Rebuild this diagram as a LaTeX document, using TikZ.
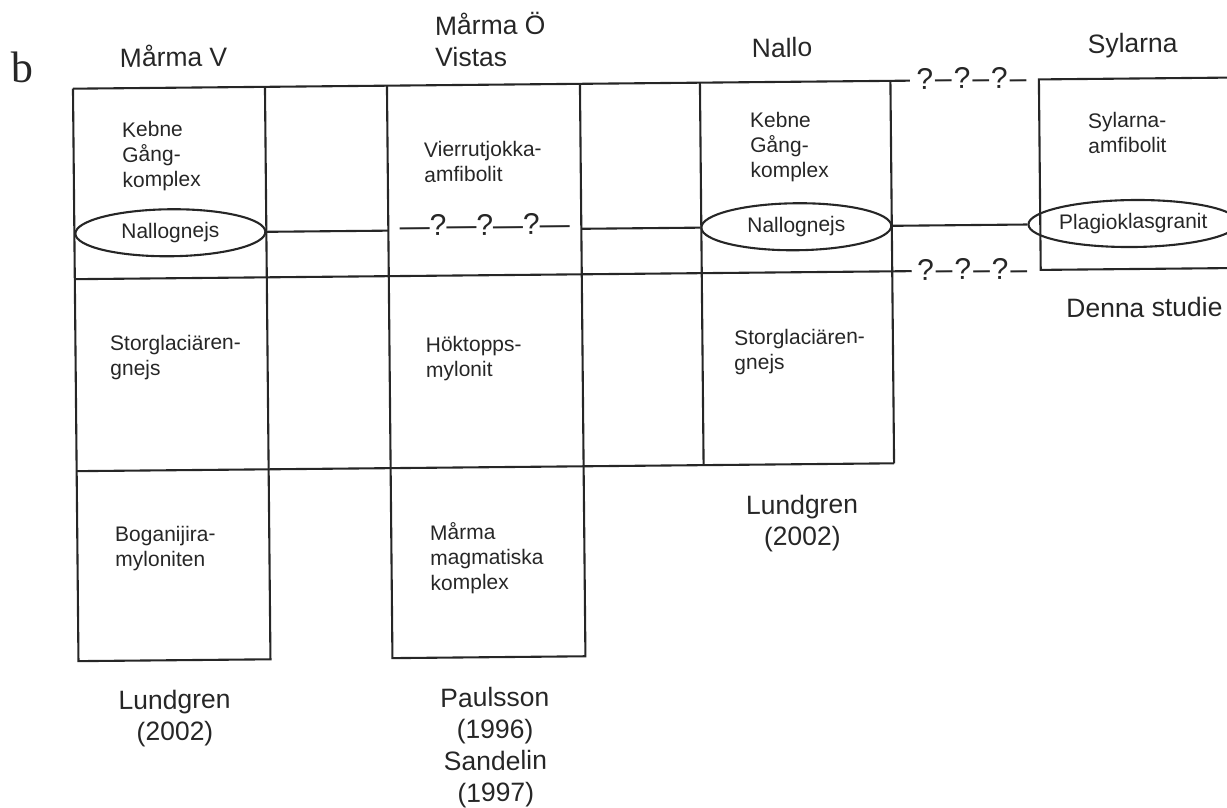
\documentclass[tikz,border=0pt]{standalone}
\usepackage{fontspec}
\newfontfamily\arial{Liberation Sans}
\newfontfamily\serifb{Liberation Serif}
\usetikzlibrary{shapes.geometric}
\begin{document}
\begin{tikzpicture}[x=1pt,y=-1pt,
  ln/.style={line width=2.1pt, draw=black!85},
  hd/.style={font=\arial\fontsize{26.5}{31.7}\selectfont, text=black!85, inner sep=0pt, align=left, anchor=base west},
  hdc/.style={font=\arial\fontsize{26.5}{31.7}\selectfont, text=black!85, inner sep=0pt, align=center, anchor=base},
  tx/.style={font=\arial\fontsize{21}{25}\selectfont, text=black!85, inner sep=0pt, align=left, anchor=base west},
  ell/.style={ellipse, ln, minimum width=190pt, minimum height=47pt, inner sep=0pt, font=\arial\fontsize{21}{25}\selectfont, text=black!85},
  qm/.style={font=\arial\fontsize{30}{36}\selectfont, text=black!85, inner sep=0pt, anchor=base},
]
\useasboundingbox (0,0) rectangle (1227,807);
\clip (0,0) rectangle (1227,807);
\begin{scope}[rotate around={0.55:(613,403)}, transform shape]
% grid
\draw[ln] (76,83.5) -- (913,83.5);
\draw[ln] (76,274) -- (913,274);
\draw[ln] (76,466) -- (893.5,466);
\draw[ln] (76,83.5) -- (76,656) -- (268,656) -- (268,83.5);
\draw[ln] (390,83.5) -- (390,656) -- (583,656) -- (583,83.5);
\draw[ln] (703,83.5) -- (703,466);
\draw[ln] (893.5,83.5) -- (893.5,466);
\draw[ln] (1245,83.5) -- (1042,83.5) -- (1042,274) -- (1245,274);
% ellipses
\node[ell] (nA) at (172,228.5) {Nallognejs};
\node[ell] (nC) at (798,228.5) {Nallognejs};
\node[ell, minimum width=186pt] (nD) at (1135,228.5) {Plagioklasgranit};
\coordinate (mB1) at (390,228.5);
\coordinate (mB2) at (583,228.5);
\draw[ln] (nA.east) -- (mB1);
\draw[ln] (mB2) -- (nC.west);
\draw[ln] (nC.east) -- (nD.west);
% question marks
\node[qm] (qB) at (486.5,234) {—?—?—?—};
\node[qm] (qT) at (974.6,92) {?\kern2pt–\kern2pt?\kern2pt–\kern2pt?\kern2pt–};
\node[qm] (qL) at (973.5,283) {?\kern2pt–\kern2pt?\kern2pt–\kern2pt?\kern2pt–};
% headings
\node[font=\serifb\fontsize{44}{52}\selectfont, text=black!85, inner sep=0pt, anchor=base west] (lb) at (14,77) {b};
\node[hd] (hMV) at (123,62.3) {Mårma V};
\node[hd] (hMO) at (438.5,65) {Mårma Ö\\Vistas};
\node[hd] (hN) at (755,58.7) {Nallo};
\node[hd] (hS) at (1091,57.6) {Sylarna};
% column texts (anchor = baseline of last line)
\node[tx] (tA1) at (124.5,182.4) {Kebne\\Gång-\\komplex};
\node[tx] (tB1) at (426.4,180.2) {Vierrutjokka-\\amfibolit};
\node[tx] (tC1) at (752.6,179.3) {Kebne\\Gång-\\komplex};
\node[tx] (tD1) at (1090.6,157.6) {Sylarna-\\amfibolit};
\node[tx] (tA2) at (110.5,371) {Storglaciären-\\gnejs};
\node[tx] (tB2) at (426.2,375.2) {Höktopps-\\mylonit};
\node[tx] (tC2) at (734.6,371.2) {Storglaciären-\\gnejs};
\node[tx] (tA3) at (113.7,562) {Boganijira-\\myloniten};
\node[tx] (tB3) at (428.7,588.4) {Mårma\\magmatiska\\komplex};
% references
\node[hdc] (rC) at (801,547.5) {Lundgren\\(2002)};
\node[hdc] (rA) at (171.8,736.5) {Lundgren\\(2002)};
\node[hdc] (rB) at (492,800.7) {Paulsson\\(1996)\\Sandelin\\(1997)};
\node[hdc] (rD) at (1145.3,322) {Denna studie};
\end{scope}
\end{tikzpicture}
\end{document}
